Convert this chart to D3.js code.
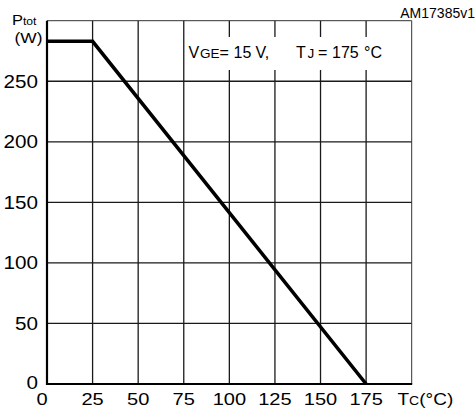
<!DOCTYPE html>
<html><head><meta charset="utf-8">
<script src="https://cdn.jsdelivr.net/npm/d3@7"></script>
<style>
html,body{margin:0;padding:0;background:#fff;}
svg{display:block;font-family:"Liberation Sans",Arial,sans-serif;}
</style></head>
<body>
<svg id="chart" width="476" height="420"></svg>
<script>
// Data
const tempC = [0, 25, 175];
const powerW = [283, 283, 0];
const xTicks = [0, 25, 50, 75, 100, 125, 150, 175];
const yTicks = [0, 50, 100, 150, 200, 250];
const xGrid = [25, 50, 75, 100, 125, 150, 175];
const yGrid = [50, 100, 150, 200, 250];

const svg = d3.select("#chart");
const L = 47, R = 411.7, T = 20.7, B = 384;
const x = d3.scaleLinear().domain([0, 200]).range([L, R]);
const y = d3.scaleLinear().domain([0, 300]).range([B, T]);

// grid
svg.append("g").selectAll("line").data(xGrid).join("line")
  .attr("x1", d => x(d)).attr("x2", d => x(d)).attr("y1", T).attr("y2", B)
  .attr("stroke", "#1a1a1a").attr("stroke-width", 1.3);
svg.append("g").selectAll("line").data(yGrid).join("line")
  .attr("x1", L).attr("x2", R).attr("y1", d => y(d)).attr("y2", d => y(d))
  .attr("stroke", "#1a1a1a").attr("stroke-width", 1.3);

// frame
svg.append("line").attr("x1", L).attr("x2", R).attr("y1", T).attr("y2", T).attr("stroke", "#333").attr("stroke-width", 1);
svg.append("line").attr("x1", R).attr("x2", R).attr("y1", T).attr("y2", B).attr("stroke", "#333").attr("stroke-width", 1);
svg.append("line").attr("x1", L).attr("x2", L).attr("y1", T).attr("y2", B + 1).attr("stroke", "#000").attr("stroke-width", 2.2);
svg.append("line").attr("x1", L - 1).attr("x2", R + 0.5).attr("y1", B).attr("y2", B).attr("stroke", "#000").attr("stroke-width", 2.2);

// annotation box
svg.append("rect").attr("x", 186).attr("y", 37).attr("width", 214).attr("height", 33).attr("fill", "#fff");
const ann = svg.append("text").attr("y", 57.5).attr("fill", "#000").attr("font-size", 16);
ann.append("tspan").attr("x", 188.5).text("V");
ann.append("tspan").attr("x", 200).attr("font-size", 13.5).text("GE");
ann.append("tspan").attr("x", 219.5).text("=");
ann.append("tspan").attr("x", 233.5).text("15");
ann.append("tspan").attr("x", 255.5).text("V,");
ann.append("tspan").attr("x", 296).text("T");
ann.append("tspan").attr("x", 307.5).attr("font-size", 13.5).text("J");
ann.append("tspan").attr("x", 318).text("=");
ann.append("tspan").attr("x", 332).text("175");
ann.append("tspan").attr("x", 364).text("°C");

// data line
const line = d3.line().x((d, i) => x(tempC[i])).y((d, i) => y(powerW[i]));
svg.append("path").datum(tempC).attr("d", line)
  .attr("fill", "none").attr("stroke", "#000").attr("stroke-width", 3.6)
  .attr("stroke-linejoin", "miter");

// y tick labels
svg.append("g").selectAll("g").data(yTicks).join("g")
  .attr("transform", d => `translate(38,${y(d) + (d === 0 ? -1.5 : 0)}) scale(1.18,1)`)
  .append("text").attr("text-anchor", "end").attr("dy", "0.36em")
  .attr("font-size", 17.5).attr("fill", "#000").text(d => d);

// x tick labels
svg.append("g").selectAll("g").data(xTicks).join("g")
  .attr("transform", d => `translate(${x(d) + (d === 0 ? -5 : 0)},405) scale(1.18,1)`)
  .append("text").attr("text-anchor", "middle")
  .attr("font-size", 17).attr("fill", "#000").text(d => d);

// x axis title
const xt = svg.append("g").attr("transform", "translate(397.5,405) scale(1.12,1)")
  .append("text").attr("font-size", 17).attr("fill", "#000");
xt.append("tspan").text("T");
xt.append("tspan").attr("font-size", 12.5).text("C");
xt.append("tspan").text("(°C)");

// y axis title
const yt = svg.append("g").attr("transform", "translate(12,25) scale(1.06,1)")
  .append("text").attr("font-size", 15.5).attr("fill", "#000");
yt.append("tspan").text("P");
yt.append("tspan").attr("font-size", 11.5).text("tot");
svg.append("g").attr("transform", "translate(14.5,42.5) scale(1.12,1)")
  .append("text").attr("font-size", 15.5).attr("fill", "#000").text("(W)");

// figure id
svg.append("text").attr("x", 475).attr("y", 18).attr("text-anchor", "end")
  .attr("font-size", 14).attr("fill", "#000").text("AM17385v1");
</script>
</body></html>
